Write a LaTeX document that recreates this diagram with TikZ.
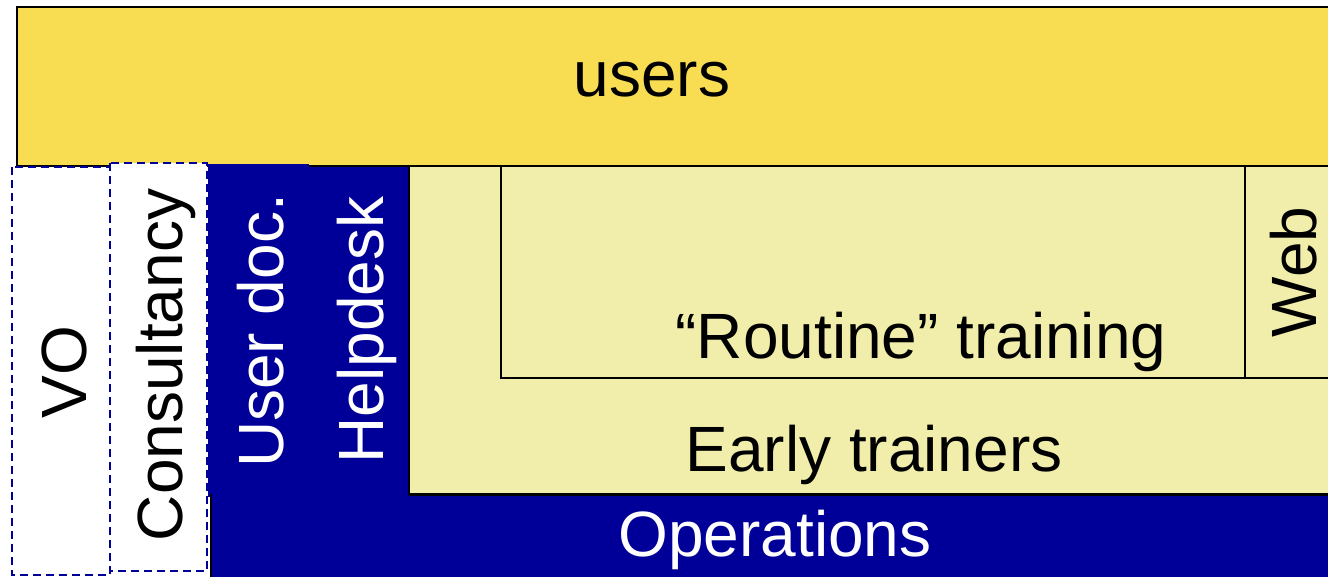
\documentclass[tikz,border=0pt]{standalone}
\usepackage{fontspec}
\setmainfont{Liberation Sans}
\definecolor{usersyellow}{HTML}{F8DC52}
\definecolor{paleyellow}{HTML}{F1EEAB}
\definecolor{opsblue}{HTML}{000099}
\tikzset{
  blk/.style={draw=black, line width=2pt},
  usersbox/.style={blk, fill=usersyellow},
  palebox/.style={blk, fill=paleyellow},
  bluebox/.style={fill=opsblue},
  dashbox/.style={draw=opsblue, fill=white, line width=1.3pt, dash pattern=on 8pt off 5pt},
  lbl/.style={anchor=base, inner sep=0pt, font=\fontsize{64}{77}\selectfont},
  wlbl/.style={lbl, text=white},
}
\begin{document}
\begin{tikzpicture}[x=1pt, y=-1pt]
\clip (0,0) rectangle (1328,576);
\fill[white] (0,0) rectangle (1328,576);
% users
\path[usersbox] (17,7) rectangle (1345,166);
% blue blocks
\path[bluebox] (208,164) rectangle (309,497);
\path[bluebox] (309,167) rectangle (409,497);
\path[bluebox, blk, draw=black] (211,495) rectangle (1345,590);
\fill[opsblue] (212,480) rectangle (409,580);
% early trainers / routine / web
\path[palebox] (409,166) rectangle (1345,494);
\path[palebox] (501,166) rectangle (1245,378);
\path[palebox] (1245,166) rectangle (1345,378);
% dashed boxes
\path[dashbox] (12,167) rectangle (110,575);
\path[dashbox] (110,163) rectangle (207,571);
% labels
\node[lbl] (users) at (652,96) {users};
\node[wlbl] (ops) at (775,556) {Operations};
\node[lbl] (early) at (874,471) {Early trainers};
\node[lbl] (routine) at (921,358) {“Routine” training};
\node[lbl, rotate=90] (web) at (1316,272) {Web};
\node[lbl, rotate=90] (vo) at (86,372) {VO};
\node[lbl, rotate=90] (cons) at (182,365) {Consultancy};
\node[wlbl, rotate=90] (udoc) at (283,331) {User doc.};
\node[wlbl, rotate=90] (help) at (383,330) {Helpdesk};
\end{tikzpicture}
\end{document}
